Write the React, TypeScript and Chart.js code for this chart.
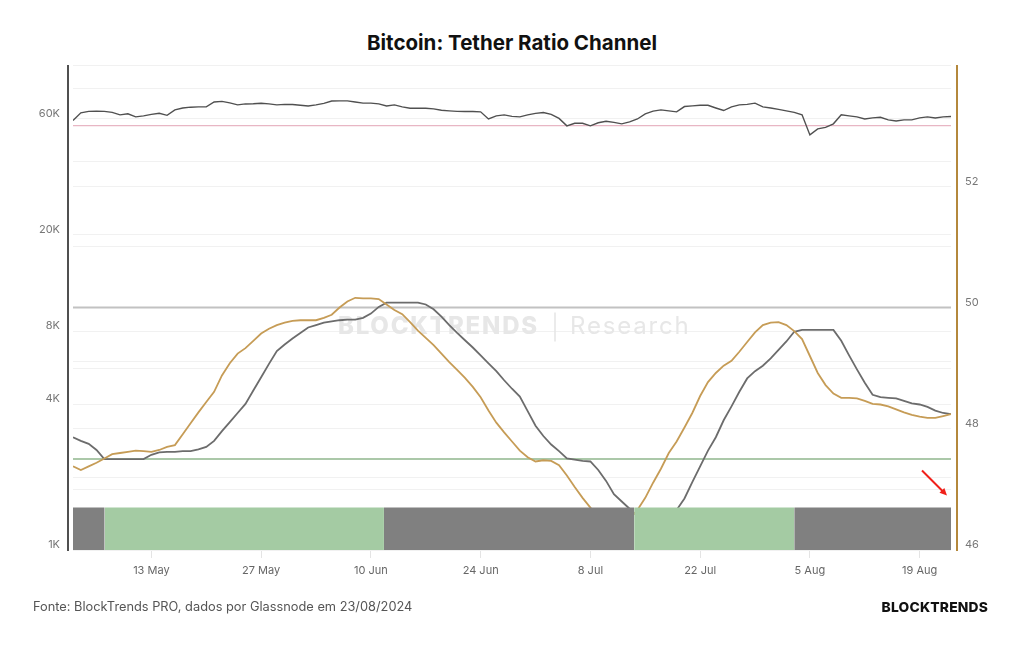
import React, { useEffect, useRef } from 'react';
import { Chart, registerables } from 'chart.js';

Chart.register(...registerables);

// ---------- data ----------
const START = '2024-05-03'; // first daily sample

// BTC price (USD thousands), daily from 3 May to 23 Aug 2024 (left, log axis)
const btcPriceK = [
  59.0, 63.5, 64.4, 64.5, 64.4, 63.8, 62.3, 62.9, 61.1, 61.7,
  62.6, 63.2, 62.0, 65.3, 66.5, 67.0, 67.2, 67.2, 70.4, 70.8,
  69.8, 68.5, 69.1, 69.2, 69.5, 69.1, 68.5, 68.8, 68.7, 68.2,
  67.8, 68.5, 69.5, 71.0, 71.1, 71.1, 70.4, 69.6, 69.6, 69.1,
  67.8, 68.5, 67.2, 66.3, 66.3, 66.3, 65.9, 65.1, 64.7, 64.4,
  64.3, 64.3, 64.1, 59.9, 61.7, 62.3, 61.4, 61.1, 62.3, 63.2,
  63.7, 62.6, 60.2, 56.1, 57.5, 57.5, 56.1, 57.8, 58.6, 58.0,
  57.2, 58.3, 59.9, 62.9, 64.5, 65.3, 64.7, 64.1, 67.4, 67.8,
  68.2, 68.2, 66.5, 64.9, 67.2, 68.5, 68.8, 69.6, 67.2, 66.5,
  65.6, 64.7, 63.8, 62.3, 51.5, 54.5, 55.3, 57.2, 62.3, 61.7,
  61.1, 59.9, 60.5, 60.9, 59.4, 58.8, 59.4, 59.4, 60.5, 61.1,
  60.5, 61.1, 61.3,
];

// Tether ratio, fast line (gold) – right axis
const ratioFast = [
  47.38, 47.32, 47.38, 47.44, 47.51, 47.58, 47.60, 47.62, 47.64, 47.63,
  47.62, 47.65, 47.70, 47.73, 47.91, 48.09, 48.27, 48.44, 48.61, 48.88,
  49.08, 49.24, 49.33, 49.45, 49.57, 49.65, 49.71, 49.75, 49.78, 49.79,
  49.79, 49.79, 49.83, 49.88, 50.00, 50.10, 50.16, 50.15, 50.15, 50.14,
  50.05, 49.96, 49.89, 49.76, 49.62, 49.50, 49.38, 49.24, 49.10, 48.97,
  48.84, 48.69, 48.52, 48.30, 48.10, 47.94, 47.79, 47.64, 47.53, 47.46,
  47.48, 47.47, 47.40, 47.23, 47.04, 46.86, 46.70, 46.54, 46.38, 46.26,
  46.35, 46.51, 46.66, 46.86, 47.11, 47.34, 47.60, 47.79, 48.02, 48.26,
  48.54, 48.77, 48.92, 49.04, 49.12, 49.27, 49.43, 49.59, 49.71, 49.75,
  49.76, 49.71, 49.61, 49.48, 49.20, 48.92, 48.72, 48.58, 48.51, 48.51,
  48.50, 48.46, 48.41, 48.40, 48.37, 48.32, 48.27, 48.23, 48.20, 48.18,
  48.18, 48.21, 48.24,
];

// Tether ratio, slow line (grey) – right axis
const ratioSlow = [
  47.86, 47.80, 47.75, 47.65, 47.50, 47.50, 47.50, 47.50, 47.50, 47.50,
  47.57, 47.61, 47.62, 47.62, 47.63, 47.63, 47.66, 47.70, 47.80, 47.96,
  48.11, 48.26, 48.41, 48.63, 48.85, 49.07, 49.28, 49.39, 49.49, 49.58,
  49.67, 49.71, 49.75, 49.77, 49.79, 49.80, 49.80, 49.83, 49.90, 50.01,
  50.08, 50.08, 50.08, 50.08, 50.08, 50.05, 49.97, 49.85, 49.71, 49.58,
  49.46, 49.34, 49.21, 49.08, 48.95, 48.80, 48.66, 48.53, 48.29, 48.05,
  47.88, 47.74, 47.63, 47.51, 47.49, 47.47, 47.46, 47.32, 47.14, 46.92,
  46.80, 46.68, 46.56, 46.46, 46.40, 46.44, 46.53, 46.66, 46.85, 47.12,
  47.38, 47.64, 47.86, 48.14, 48.37, 48.61, 48.83, 48.95, 49.04, 49.16,
  49.30, 49.44, 49.60, 49.63, 49.63, 49.63, 49.63, 49.63, 49.45, 49.21,
  48.98, 48.76, 48.56, 48.52, 48.51, 48.50, 48.46, 48.42, 48.40, 48.36,
  48.30, 48.26, 48.24,
];

// channel levels (right axis)
const UPPER_LEVEL = 50;
const LOWER_LEVEL = 47.5;
const PINK_LEVEL = 53;

// signal band
const BAND_TOP = 46.7;
const bandEdges = [
  '2024-05-03T00:00',
  '2024-05-07T01:00',
  '2024-06-11T16:00',
  '2024-07-13T14:00',
  '2024-08-03T00:00',
  '2024-08-23T00:00',
];
const bandSignals = ['neutral', 'buy', 'neutral', 'buy', 'neutral'];

// axes
const xTickDates = ['2024-05-13', '2024-05-27', '2024-06-10', '2024-06-24', '2024-07-08', '2024-07-22', '2024-08-05', '2024-08-19'];
const leftTicks = [1000, 2000, 4000, 6000, 8000, 10000, 20000, 40000, 60000, 80000, 100000];
const leftTickLabels = ['1K', '', '4K', '', '8K', '', '20K', '', '60K', '', ''];
const rightTicks = [46, 47, 48, 49, 50, 51, 52, 53, 54];
const rightTickLabels = ['46', '', '48', '', '50', '', '52', '', ''];
const ARROW_VALUE = 46.9;

const MONTHS = ['Jan', 'Feb', 'Mar', 'Apr', 'May', 'Jun', 'Jul', 'Aug', 'Sep', 'Oct', 'Nov', 'Dec'];
const FONT = 'Inter, "Noto Sans", sans-serif';

const toMs = (iso: string) => Date.parse(iso.length > 10 ? iso + ':00Z' : iso + 'T00:00:00Z');
const dayIndex = (iso: string) => (toMs(iso) - toMs(START)) / 86400000;
const fmtDate = (iso: string) => {
  const d = new Date(toMs(iso));
  return `${d.getUTCDate()} ${MONTHS[d.getUTCMonth()]}`;
};

const series = (arr: number[], k = 1) => arr.map((v, i) => ({ x: i, y: v * k }));
const level = (v: number) => [{ x: 0, y: v }, { x: btcPriceK.length - 1, y: v }];

const decorPlugin = {
  id: 'decor',
  beforeDatasetsDraw(chart: any) {
    const { ctx, chartArea } = chart;
    const cx = (chartArea.left + chartArea.right) / 2;
    const cy = (chartArea.top + chartArea.bottom) / 2 + 19;
    ctx.save();
    ctx.fillStyle = '#e7e7e7';
    ctx.textBaseline = 'middle';
    (ctx as any).letterSpacing = '1.8px';
    ctx.font = `800 24px ${FONT}`;
    ctx.textAlign = 'right';
    ctx.fillText('BLOCKTRENDS', cx + 27, cy);
    ctx.font = `400 24px ${FONT}`;
    ctx.textAlign = 'left';
    ctx.fillText('Research', cx + 58, cy);
    ctx.strokeStyle = '#e4e4e4';
    ctx.lineWidth = 1.5;
    ctx.beginPath();
    ctx.moveTo(cx + 43, cy - 14);
    ctx.lineTo(cx + 43, cy + 15);
    ctx.stroke();
    ctx.restore();
  },
  afterDraw(chart: any) {
    const { ctx, chartArea, scales } = chart;
    ctx.save();
    // axis lines
    ctx.lineWidth = 2;
    ctx.strokeStyle = '#505050';
    ctx.beginPath();
    ctx.moveTo(chartArea.left - 5, chartArea.top);
    ctx.lineTo(chartArea.left - 5, chartArea.bottom + 1);
    ctx.stroke();
    ctx.strokeStyle = '#b4883c';
    ctx.beginPath();
    ctx.moveTo(chartArea.right + 6, chartArea.top);
    ctx.lineTo(chartArea.right + 6, chartArea.bottom + 1);
    ctx.stroke();
    // red arrow pointing at the latest signal
    const tx = scales.x.getPixelForValue(scales.x.max) - 4;
    const ty = scales.y1.getPixelForValue(ARROW_VALUE);
    const sx = tx - 25;
    const sy = ty - 25;
    ctx.strokeStyle = '#f0201a';
    ctx.fillStyle = '#f0201a';
    ctx.lineWidth = 2;
    ctx.beginPath();
    ctx.moveTo(sx, sy);
    ctx.lineTo(tx - 4, ty - 4);
    ctx.stroke();
    const ang = Math.atan2(ty - sy, tx - sx);
    ctx.beginPath();
    ctx.moveTo(tx, ty);
    ctx.lineTo(tx - 8 * Math.cos(ang - 0.45), ty - 8 * Math.sin(ang - 0.45));
    ctx.lineTo(tx - 8 * Math.cos(ang + 0.45), ty - 8 * Math.sin(ang + 0.45));
    ctx.closePath();
    ctx.fill();
    ctx.restore();
  },
};

export default function App() {
  const ref = useRef<HTMLCanvasElement | null>(null);

  useEffect(() => {
    if (!ref.current) return;
    const bandSets = bandSignals.map((sig, k) => ({
      type: 'line',
      label: `band${k}`,
      yAxisID: 'y1',
      order: 0,
      data: [
        { x: dayIndex(bandEdges[k]), y: BAND_TOP },
        { x: dayIndex(bandEdges[k + 1]), y: BAND_TOP },
      ],
      borderWidth: 0,
      borderColor: 'rgba(0,0,0,0)',
      backgroundColor: sig === 'buy' ? '#a4cba3' : '#808080',
      fill: 'start',
      pointRadius: 0,
    }));

    const chart = new Chart(ref.current, {
      type: 'line',
      data: {
        datasets: [
          ...bandSets,
          {
            label: 'Ratio (fast)',
            yAxisID: 'y1',
            order: 1,
            data: series(ratioFast),
            borderColor: '#c69c56',
            borderWidth: 1.8,
            pointRadius: 0,
            tension: 0,
          },
          {
            label: 'Ratio (slow)',
            yAxisID: 'y1',
            order: 2,
            data: series(ratioSlow),
            borderColor: '#6c6c6c',
            borderWidth: 1.8,
            pointRadius: 0,
            tension: 0,
          },
          {
            label: 'BTC',
            yAxisID: 'y',
            order: 3,
            data: series(btcPriceK, 1000),
            borderColor: '#505050',
            borderWidth: 1.4,
            pointRadius: 0,
            tension: 0,
          },
          {
            label: 'Upper',
            yAxisID: 'y1',
            order: 4,
            data: level(UPPER_LEVEL),
            borderColor: '#c2c2c2',
            borderWidth: 2,
            pointRadius: 0,
          },
          {
            label: 'Lower',
            yAxisID: 'y1',
            order: 5,
            data: level(LOWER_LEVEL),
            borderColor: '#8fb68c',
            borderWidth: 1.5,
            pointRadius: 0,
          },
          {
            label: 'Pink',
            yAxisID: 'y1',
            order: 6,
            data: level(PINK_LEVEL),
            borderColor: '#e8b6c4',
            borderWidth: 1.2,
            pointRadius: 0,
          },
        ] as any,
      },
      options: {
        animation: false,
        responsive: false,
        devicePixelRatio: 1,
        layout: { padding: { top: 65, left: 0, right: 0, bottom: 0 } },
        plugins: { legend: { display: false }, tooltip: { enabled: false }, title: { display: false } },
        scales: {
          x: {
            type: 'linear',
            min: 0,
            max: btcPriceK.length - 1,
            afterBuildTicks: (s: any) => {
              s.ticks = xTickDates.map((d) => ({ value: dayIndex(d) }));
            },
            afterFit: (s: any) => {
              s.height = 95;
            },
            ticks: {
              autoSkip: false,
              maxRotation: 0,
              padding: 6,
              color: '#666',
              font: { family: FONT, size: 11 },
              callback: (_v: any, i: number) => fmtDate(xTickDates[i]),
            },
            grid: { drawOnChartArea: false, drawTicks: true, tickLength: 8, color: '#e4e4e4' },
            border: { display: false },
          },
          y: {
            type: 'logarithmic',
            position: 'left',
            min: 1000,
            max: 100000,
            afterBuildTicks: (s: any) => {
              s.ticks = leftTicks.map((v) => ({ value: v }));
            },
            afterFit: (s: any) => {
              s.width = 73;
            },
            ticks: {
              padding: 13,
              labelOffset: -5,
              color: '#777',
              font: { family: FONT, size: 11 },
              callback: (_v: any, i: number) => leftTickLabels[i],
            },
            grid: { color: '#f1f1f1', drawTicks: false },
            border: { display: false },
          },
          y1: {
            type: 'linear',
            position: 'right',
            min: 46,
            max: 54,
            afterBuildTicks: (s: any) => {
              s.ticks = rightTicks.map((v) => ({ value: v }));
            },
            afterFit: (s: any) => {
              s.width = 73;
            },
            ticks: {
              padding: 14,
              labelOffset: -5,
              color: '#777',
              font: { family: FONT, size: 11 },
              callback: (_v: any, i: number) => rightTickLabels[i],
            },
            grid: { color: '#f1f1f1', drawTicks: false },
            border: { display: false },
          },
        },
      } as any,
      plugins: [decorPlugin],
    });
    return () => chart.destroy();
  }, []);

  return (
    <div style={{ position: 'absolute', left: 0, top: 0, width: 1024, height: 645, background: '#fff', overflow: 'hidden', fontFamily: FONT }}>
      <div
        style={{
          position: 'absolute',
          top: 30,
          left: 0,
          width: 1024,
          textAlign: 'center',
          fontSize: 20.5,
          lineHeight: '26px',
          fontWeight: 700,
          color: '#111',
        }}
      >
        Bitcoin: Tether Ratio Channel
      </div>
      <canvas ref={ref} width={1024} height={645} style={{ position: 'absolute', left: 0, top: 0, width: 1024, height: 645 }} />
      <div style={{ position: 'absolute', left: 33, top: 598, fontSize: 12.8, lineHeight: '18px', color: '#555' }}>
        Fonte: BlockTrends PRO, dados por Glassnode em 23/08/2024
      </div>
      <div style={{ position: 'absolute', right: 36, top: 598, fontSize: 13.8, lineHeight: '18px', fontWeight: 800, color: '#111', letterSpacing: '0.2px' }}>
        BLOCKTRENDS
      </div>
    </div>
  );
}
